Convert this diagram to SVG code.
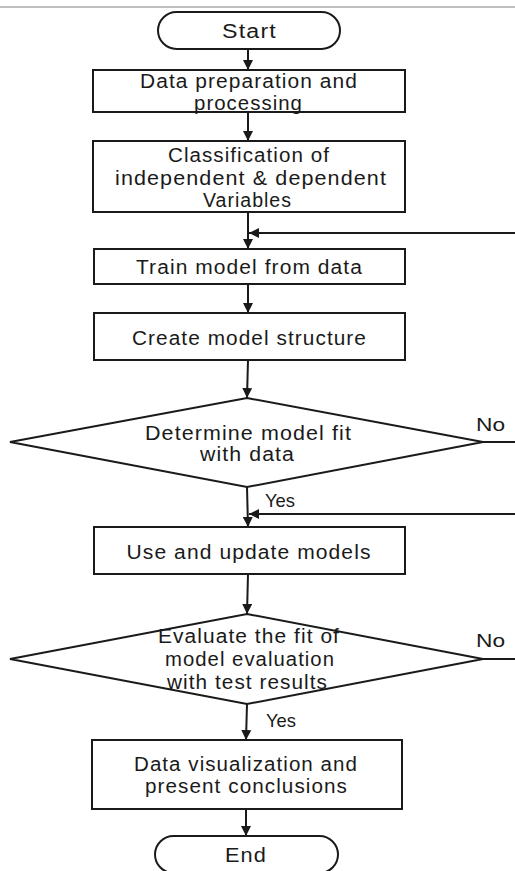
<svg xmlns="http://www.w3.org/2000/svg" width="515" height="871" viewBox="0 0 515 871">
<style>
.s{fill:#fff;stroke:#1a1a1a;stroke-width:2}
.t{font-family:"Liberation Sans","Noto Sans",sans-serif;font-size:19.5px;letter-spacing:1px;fill:#1a1a1a;text-anchor:middle}
.l{font-family:"Liberation Sans","Noto Sans",sans-serif;font-size:19px;fill:#1a1a1a}
.c{fill:none;stroke:#1a1a1a;stroke-width:2}
</style>
<defs>
<marker id="a" viewBox="0 0 10 10" refX="10" refY="5" markerWidth="10" markerHeight="10" markerUnits="userSpaceOnUse" orient="auto">
<path d="M0,0 L10,5 L0,10 z" fill="#1a1a1a"/>
</marker>
</defs>
<rect x="0" y="0" width="515" height="871" fill="#fff"/>
<line x1="0" y1="7" x2="515" y2="7" stroke="#aaa" stroke-width="1.5"/>
<g id="connectors">
<line class="c" x1="248" y1="49" x2="248" y2="70" marker-end="url(#a)"/>
<line class="c" x1="248" y1="112" x2="248" y2="141" marker-end="url(#a)"/>
<line class="c" x1="248" y1="212" x2="248" y2="249" marker-end="url(#a)"/>
<line class="c" x1="515" y1="233" x2="249" y2="233" marker-end="url(#a)"/>
<line class="c" x1="248" y1="284" x2="248" y2="313" marker-end="url(#a)"/>
<line class="c" x1="248" y1="360" x2="247" y2="398" marker-end="url(#a)"/>
<line class="c" x1="483" y1="442" x2="515" y2="442"/>
<line class="c" x1="247" y1="487" x2="248" y2="527" marker-end="url(#a)"/>
<line class="c" x1="515" y1="514" x2="249" y2="514" marker-end="url(#a)"/>
<line class="c" x1="248" y1="574" x2="247" y2="614" marker-end="url(#a)"/>
<line class="c" x1="483" y1="659" x2="515" y2="659"/>
<line class="c" x1="247" y1="704" x2="246" y2="740" marker-end="url(#a)"/>
<line class="c" x1="246" y1="809" x2="246" y2="836" marker-end="url(#a)"/>
<text class="l" x="476" y="431" textLength="29" lengthAdjust="spacingAndGlyphs">No</text>
<text class="l" x="265" y="507" textLength="30" lengthAdjust="spacingAndGlyphs">Yes</text>
<text class="l" x="476" y="647" textLength="29" lengthAdjust="spacingAndGlyphs">No</text>
<text class="l" x="266" y="727" textLength="30" lengthAdjust="spacingAndGlyphs">Yes</text>
</g>
<g id="start">
<rect class="s" x="158" y="12" width="182" height="37" rx="18.5"/>
<text class="t" x="249.5" y="38" textLength="55" lengthAdjust="spacingAndGlyphs">Start</text>
</g>
<g id="prep">
<rect class="s" x="93" y="70" width="312" height="42"/>
<text class="t" x="249" y="88" textLength="218" lengthAdjust="spacingAndGlyphs">Data preparation and</text>
<text class="t" x="248.5" y="110" textLength="109" lengthAdjust="spacingAndGlyphs">processing</text>
</g>
<g id="classify">
<rect class="s" x="93" y="141" width="312" height="71"/>
<text class="t" x="249" y="162" textLength="162" lengthAdjust="spacingAndGlyphs">Classification of</text>
<text class="t" x="251" y="184.5" textLength="272" lengthAdjust="spacingAndGlyphs">independent &amp; dependent</text>
<text class="t" x="247.5" y="207" textLength="89" lengthAdjust="spacingAndGlyphs">Variables</text>
</g>
<g id="train">
<rect class="s" x="94" y="249" width="311" height="35"/>
<text class="t" x="249.5" y="274" textLength="227" lengthAdjust="spacingAndGlyphs">Train model from data</text>
</g>
<g id="create">
<rect class="s" x="94" y="313" width="311" height="47"/>
<text class="t" x="249.5" y="345" textLength="235" lengthAdjust="spacingAndGlyphs">Create model structure</text>
</g>
<g id="fit">
<polygon class="s" points="247,398 483,442 247,487 10,442"/>
<text class="t" x="248.5" y="440" textLength="207" lengthAdjust="spacingAndGlyphs">Determine model fit</text>
<text class="t" x="247.5" y="461" textLength="95" lengthAdjust="spacingAndGlyphs">with data</text>
</g>
<g id="use">
<rect class="s" x="94" y="527" width="311" height="47"/>
<text class="t" x="249" y="559" textLength="245" lengthAdjust="spacingAndGlyphs">Use and update models</text>
</g>
<g id="evaluate">
<polygon class="s" points="247,614 483,659 247,704 10,659"/>
<text class="t" x="249" y="643" textLength="182" lengthAdjust="spacingAndGlyphs">Evaluate the fit of</text>
<text class="t" x="250" y="666" textLength="170" lengthAdjust="spacingAndGlyphs">model evaluation</text>
<text class="t" x="247.5" y="689" textLength="161" lengthAdjust="spacingAndGlyphs">with test results</text>
</g>
<g id="visualize">
<rect class="s" x="92" y="740" width="310" height="69"/>
<text class="t" x="246" y="771" textLength="224" lengthAdjust="spacingAndGlyphs">Data visualization and</text>
<text class="t" x="246.5" y="793" textLength="203" lengthAdjust="spacingAndGlyphs">present conclusions</text>
</g>
<g id="end">
<rect class="s" x="155" y="836" width="183" height="37" rx="18.5"/>
<text class="t" x="246" y="862" textLength="42" lengthAdjust="spacingAndGlyphs">End</text>
</g>
</svg>
